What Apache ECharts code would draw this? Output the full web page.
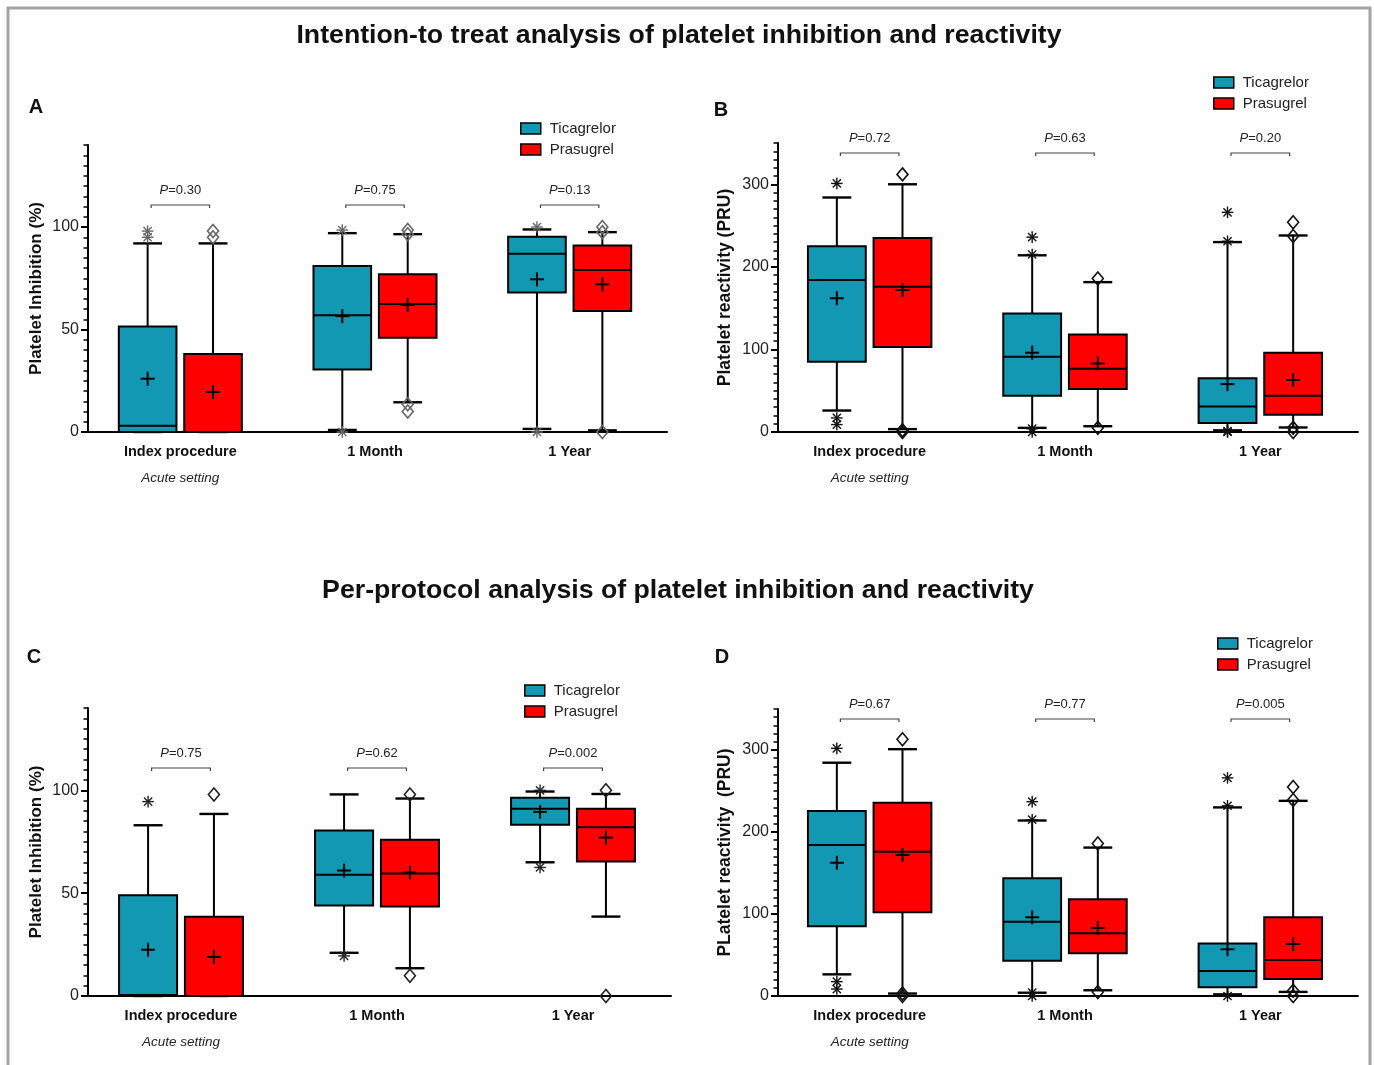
<!DOCTYPE html>
<html>
<head>
<meta charset="utf-8">
<script src="https://cdn.jsdelivr.net/npm/echarts@6/dist/echarts.min.js"></script>
<style>
html,body{margin:0;padding:0;background:#fff;}
#chart{width:1374px;height:1065px;}
</style>
</head>
<body>
<div id="chart"></div>
<script>
// ---------- DATA ----------
const categories = ['Index procedure', '1 Month', '1 Year'];
const groups = ['Ticagrelor', 'Prasugrel'];
const inhibitionTicks = [0, 50, 100];
const reactivityTicks = [0, 100, 200, 300];

// box rows: [min, Q1, median, Q3, max]
// Panel A — ITT platelet inhibition (%)
const A_ticBox = [[0, 0, 3, 51.5, 92], [1, 30.5, 57, 81, 97], [1.5, 68, 87, 95.3, 98.8]];
const A_ticMean = [26, 56.5, 74.5];
const A_ticOut = [[0, 95], [0, 98], [1, 0], [1, 98.5], [2, 0], [2, 100]];
const A_prBox = [[0, 0, 0, 38, 92], [14.5, 46, 62.5, 77, 96.5], [0.8, 59, 79, 91, 97.5]];
const A_prMean = [19.5, 62, 72];
const A_prOut = [[0, 95], [0, 98], [1, 98.5], [1, 96.5], [1, 13.5], [1, 10], [2, 100], [2, 97.5], [2, 0]];
const A_p = ['0.30', '0.75', '0.13'];

// Panel B — ITT platelet reactivity (PRU)
const B_ticBox = [[26, 85, 184, 225, 284], [5, 44, 91, 143.5, 214], [2, 11, 31, 65, 230]];
const B_ticMean = [162, 96, 58];
const B_ticOut = [[0, 301], [0, 17], [0, 9], [1, 236], [1, 215], [1, 4], [1, 0], [2, 266], [2, 231], [2, 1], [2, 0]];
const B_prBox = [[3.5, 103, 176, 235, 300], [7, 52, 76.5, 118, 181.5], [5.5, 21, 44, 96, 238]];
const B_prMean = [172, 83, 63];
const B_prOut = [[0, 312], [0, 2], [0, 0], [1, 186], [1, 5], [2, 254], [2, 237.5], [2, 5], [2, 0]];
const B_p = ['0.72', '0.63', '0.20'];

// Panel C — per-protocol platelet inhibition (%)
const C_ticBox = [[0, 0, 0.5, 49, 83], [21, 44, 59, 80.5, 98], [65, 83.3, 91, 96.4, 99.4]];
const C_ticMean = [22.5, 61, 89.5];
const C_ticOut = [[0, 94.5], [1, 19.5], [2, 100], [2, 62.5]];
const C_prBox = [[0, 0, 0, 38.5, 88.5], [13.5, 43.5, 59.5, 76, 96], [38.6, 65.4, 82, 91, 98.2]];
const C_prMean = [19, 60, 77];
const C_prOut = [[0, 98], [1, 98], [1, 9.8], [2, 100], [2, 0]];
const C_p = ['0.75', '0.62', '0.002'];

// Panel D — per-protocol platelet reactivity (PRU)
const D_ticBox = [[26.4, 85, 184, 225.6, 284.5], [4, 43, 90.6, 143.5, 214], [2, 10.6, 30.5, 64, 230]];
const D_ticMean = [162.5, 96, 57];
const D_ticOut = [[0, 302], [0, 17.5], [0, 8.5], [1, 237], [1, 215], [1, 4], [1, 0], [2, 266], [2, 232], [2, 0]];
const D_prBox = [[3, 102, 176, 235.8, 301], [7, 52, 76.4, 118, 181], [5, 20.7, 44, 96, 238]];
const D_prMean = [172, 83, 63.4];
const D_prOut = [[0, 313], [0, 3], [0, 0], [1, 186], [1, 5], [2, 255], [2, 239], [2, 6.5], [2, 0]];
const D_p = ['0.67', '0.77', '0.005'];

// ---------- STYLE / LAYOUT ----------
const FONT = '"Liberation Sans", Arial, Helvetica, sans-serif';
const TEAL = '#1398b3';
const RED = '#ff0000';
const SIDE_OFFSET = 0.168;  // fraction of band
const HALF_BOX = 0.148;     // fraction of band

const panels = [
  { grid: { left: 83, top: 145, width: 584, height: 287 }, yOffset: -5, max: 140, major: 50, minor: 5, ticks: inhibitionTicks,
    name: 'Platelet Inhibition (%)', nameGap: 43, nameSize: 17,
    tic: [A_ticBox, A_ticMean, A_ticOut], pr: [A_prBox, A_prMean, A_prOut], p: A_p,
    bracket: 60, legend: { left: 520, top: 121 }, outColor: '#666' },
  { grid: { left: 772, top: 143, width: 586, height: 289 }, yOffset: -6, max: 350, major: 100, minor: 10, ticks: reactivityTicks,
    name: 'Platelet reactivity (PRU)', nameGap: 44, nameSize: 17.5,
    tic: [B_ticBox, B_ticMean, B_ticOut], pr: [B_prBox, B_prMean, B_prOut], p: B_p,
    bracket: 10, legend: { left: 1213, top: 75 }, outColor: '#111' },
  { grid: { left: 83, top: 708, width: 588, height: 288 }, yOffset: -5, max: 140, major: 50, minor: 5, ticks: inhibitionTicks,
    name: 'Platelet Inhibition (%)', nameGap: 43, nameSize: 17,
    tic: [C_ticBox, C_ticMean, C_ticOut], pr: [C_prBox, C_prMean, C_prOut], p: C_p,
    bracket: 60, legend: { left: 524, top: 683 }, outColor: '#222' },
  { grid: { left: 772, top: 709, width: 586, height: 287 }, yOffset: -6, max: 350, major: 100, minor: 10, ticks: reactivityTicks,
    name: 'PLatelet reactivity  (PRU)', nameGap: 44, nameSize: 17.5,
    tic: [D_ticBox, D_ticMean, D_ticOut], pr: [D_prBox, D_prMean, D_prOut], p: D_p,
    bracket: 10, legend: { left: 1217, top: 636 }, outColor: '#111' }
];

function centerX(api, params, ci, side) {
  const band = params.coordSys.width / categories.length;
  return { cx: api.coord([ci, 0])[0] + side * band * SIDE_OFFSET, band: band };
}

function boxRender(side) {
  return function (params, api) {
    const ci = api.value(0);
    const g = centerX(api, params, ci, side);
    const cx = g.cx, hw = g.band * HALF_BOX, cw = hw * 0.5;
    const Y = k => api.coord([ci, api.value(k)])[1];
    const yMin = Y(1), yQ1 = Y(2), yMed = Y(3), yQ3 = Y(4), yMax = Y(5), yMean = Y(6);
    const ls = { stroke: '#000', lineWidth: 2 };
    const cap = { stroke: '#000', lineWidth: 2.4 };
    return { type: 'group', children: [
      { type: 'line', shape: { x1: cx, y1: yMax, x2: cx, y2: yMin }, style: ls },
      { type: 'line', shape: { x1: cx - cw, y1: yMax, x2: cx + cw, y2: yMax }, style: cap },
      { type: 'line', shape: { x1: cx - cw, y1: yMin, x2: cx + cw, y2: yMin }, style: cap },
      { type: 'rect', shape: { x: cx - hw, y: yQ3, width: 2 * hw, height: yQ1 - yQ3 },
        style: { fill: api.visual('color'), stroke: '#000', lineWidth: 2 } },
      { type: 'line', shape: { x1: cx - hw, y1: yMed, x2: cx + hw, y2: yMed }, style: ls },
      { type: 'line', shape: { x1: cx - 7, y1: yMean, x2: cx + 7, y2: yMean }, style: ls },
      { type: 'line', shape: { x1: cx, y1: yMean - 7, x2: cx, y2: yMean + 7 }, style: ls }
    ] };
  };
}

function outlierRender(side, color) {
  return function (params, api) {
    const ci = api.value(0);
    const cx = centerX(api, params, ci, side).cx;
    const y = api.coord([ci, api.value(1)])[1];
    if (side < 0) {
      const r = 5.8, d = r * 0.7071;
      const st = { stroke: color, lineWidth: 1.4 };
      return { type: 'group', children: [
        { type: 'line', shape: { x1: cx, y1: y - r, x2: cx, y2: y + r }, style: st },
        { type: 'line', shape: { x1: cx - r, y1: y, x2: cx + r, y2: y }, style: st },
        { type: 'line', shape: { x1: cx - d, y1: y - d, x2: cx + d, y2: y + d }, style: st },
        { type: 'line', shape: { x1: cx - d, y1: y + d, x2: cx + d, y2: y - d }, style: st }
      ] };
    }
    return { type: 'polygon', shape: { points: [[cx, y - 6.5], [cx + 5.5, y], [cx, y + 6.5], [cx - 5.5, y]] },
      style: { fill: 'rgba(255,255,255,0)', stroke: color, lineWidth: 1.6 } };
  };
}

function bracketRender(pvals, offset) {
  return function (params, api) {
    const ci = api.value(0);
    const band = params.coordSys.width / categories.length;
    const cx = api.coord([ci, 0])[0];
    const x1 = cx - band * 0.15, x2 = cx + band * 0.15;
    const yb = params.coordSys.y + offset;
    return { type: 'group', children: [
      { type: 'polyline', shape: { points: [[x1, yb + 3], [x1, yb], [x2, yb], [x2, yb + 3]] },
        style: { fill: null, stroke: '#444', lineWidth: 1.2 } },
      { type: 'text', style: { text: '{i|P}=' + pvals[params.dataIndex], x: cx, y: yb - 15,
        align: 'center', verticalAlign: 'middle', font: '13px ' + FONT, fill: '#222',
        rich: { i: { fontStyle: 'italic', fontSize: 13, fontFamily: FONT, fill: '#222' } } } }
    ] };
  };
}

const option = {
  backgroundColor: '#fff',
  animation: false,
  grid: [], xAxis: [], yAxis: [], series: [], legend: [],
  graphic: [
    { type: 'rect', shape: { x: 8, y: 8, width: 1362, height: 1090 }, style: { fill: 'none', stroke: '#a3a3a3', lineWidth: 3 }, silent: true },
    { type: 'text', style: { text: 'Intention-to treat analysis of platelet inhibition and reactivity', x: 679, y: 36,
      align: 'center', verticalAlign: 'middle', font: 'bold 26.7px ' + FONT, fill: '#111' } },
    { type: 'text', style: { text: 'Per-protocol analysis of platelet inhibition and reactivity', x: 678, y: 591,
      align: 'center', verticalAlign: 'middle', font: 'bold 26.7px ' + FONT, fill: '#111' } },
    { type: 'text', style: { text: 'A', x: 36, y: 107, align: 'center', verticalAlign: 'middle', font: 'bold 20px ' + FONT, fill: '#111' } },
    { type: 'text', style: { text: 'B', x: 721, y: 110, align: 'center', verticalAlign: 'middle', font: 'bold 20px ' + FONT, fill: '#111' } },
    { type: 'text', style: { text: 'C', x: 34, y: 657, align: 'center', verticalAlign: 'middle', font: 'bold 20px ' + FONT, fill: '#111' } },
    { type: 'text', style: { text: 'D', x: 722, y: 657, align: 'center', verticalAlign: 'middle', font: 'bold 20px ' + FONT, fill: '#111' } }
  ]
};

panels.forEach((p, i) => {
  option.grid.push(p.grid);
  option.xAxis.push({
    type: 'category', gridIndex: i, data: categories,
    axisLine: { lineStyle: { color: '#000', width: 2 } },
    axisTick: { show: false },
    axisLabel: {
      margin: 11, color: '#111', interval: 0,
      formatter: (v, idx) => idx === 0 ? '{b|' + v + '}\n{i|Acute setting}' : '{b|' + v + '}',
      rich: {
        b: { fontFamily: FONT, fontWeight: 'bold', fontSize: 14.5, lineHeight: 18, color: '#111' },
        i: { fontFamily: FONT, fontStyle: 'italic', fontSize: 13.5, lineHeight: 34, color: '#222' }
      }
    }
  });
  option.yAxis.push({
    type: 'value', gridIndex: i, min: 0, max: p.max, interval: p.major, position: 'left', offset: p.yOffset,
    axisLine: { show: true, lineStyle: { color: '#000', width: 2 } },
    axisTick: { show: true, length: 7, lineStyle: { color: '#000', width: 2 }, customValues: p.ticks },
    axisLabel: { customValues: p.ticks, fontFamily: FONT, fontSize: 16, color: '#222', margin: 9 },
    splitLine: { show: false },
    name: p.name, nameLocation: 'middle', nameGap: p.nameGap,
    nameTextStyle: { fontFamily: FONT, fontWeight: 'bold', fontSize: p.nameSize, color: '#111' }
  });
  option.yAxis.push({
    type: 'value', gridIndex: i, min: 0, max: p.max, interval: p.minor, position: 'left', offset: p.yOffset,
    axisLine: { show: false },
    axisTick: { show: true, length: 4.5, lineStyle: { color: '#000', width: 1.5 } },
    axisLabel: { show: false }, splitLine: { show: false }
  });
  const yi = 2 * i;
  [[p.tic, groups[0], TEAL, -1], [p.pr, groups[1], RED, 1]].forEach(([d, name, color, side]) => {
    const boxData = d[0].map((row, ci) => [ci].concat(row).concat([d[1][ci]]));
    option.series.push({
      type: 'custom', name: name, xAxisIndex: i, yAxisIndex: yi,
      itemStyle: { color: color }, renderItem: boxRender(side),
      encode: { x: 0, y: [1, 2, 3, 4, 5, 6] }, data: boxData, z: 2
    });
    option.series.push({
      type: 'custom', name: name + ' outliers', xAxisIndex: i, yAxisIndex: yi,
      itemStyle: { color: p.outColor }, renderItem: outlierRender(side, p.outColor),
      encode: { x: 0, y: 1 }, data: d[2], z: 3
    });
  });
  option.series.push({
    type: 'custom', name: 'p' + i, xAxisIndex: i, yAxisIndex: yi,
    renderItem: bracketRender(p.p, p.bracket),
    encode: { x: 0, y: 1 }, data: categories.map((c, ci) => [ci, 0]), z: 3
  });
  option.legend.push({
    data: groups, orient: 'vertical', left: p.legend.left, top: p.legend.top,
    itemWidth: 20, itemHeight: 11, itemGap: 6, icon: 'rect', selectedMode: false, padding: 0,
    itemStyle: { borderColor: '#000', borderWidth: 1.5 },
    textStyle: { fontFamily: FONT, fontSize: 15, color: '#222', padding: [0, 0, 0, 4] }
  });
});

const chart = echarts.init(document.getElementById('chart'), null, { renderer: 'canvas' });
chart.setOption(option);
</script>
</body>
</html>
